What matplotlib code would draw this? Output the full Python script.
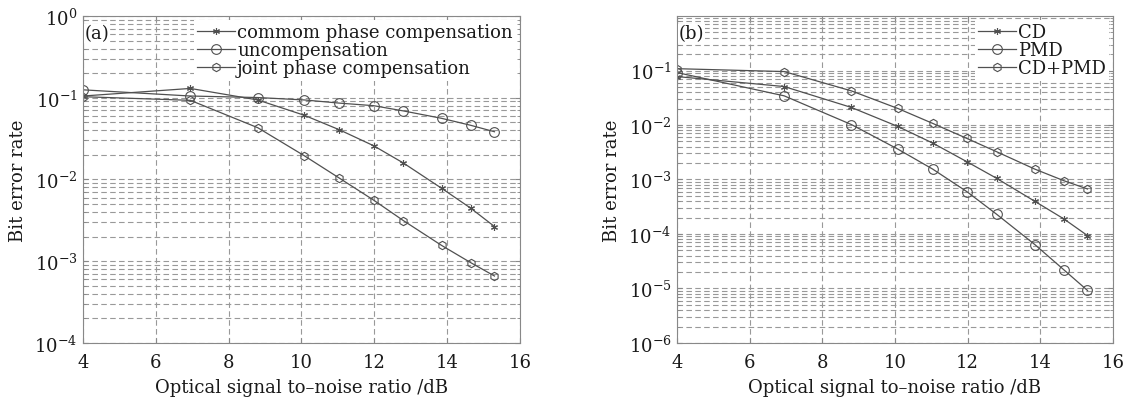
import matplotlib
matplotlib.use("Agg")
import matplotlib.pyplot as plt
from matplotlib.ticker import LogLocator, NullFormatter

plt.rcParams["font.family"] = ["DejaVu Serif"]
plt.rcParams["mathtext.fontset"] = "dejavuserif"

# OSNR sample points (dB)
osnr = [4.0, 6.95, 8.8, 10.08, 11.04, 11.98, 12.8, 13.85, 14.65, 15.3]

# panel (a)
ber_common = [0.105, 0.13, 0.094, 0.061, 0.0406, 0.0259, 0.0159, 0.0078, 0.00445, 0.00266]
ber_uncomp = [0.125, 0.105, 0.1006, 0.094, 0.086, 0.080, 0.069, 0.056, 0.046, 0.0384]
ber_joint = [0.103, 0.093, 0.043, 0.0195, 0.0104, 0.0056, 0.00314, 0.00156, 0.00096, 0.00066]

# panel (b)
ber_cd = [0.0774, 0.0508, 0.0210, 0.0094, 0.00466, 0.00212, 0.00105, 0.000398, 0.000189, 0.0000935]
ber_pmd = [0.0917, 0.0343, 0.0102, 0.00361, 0.00155, 0.000598, 0.00023, 0.000064, 0.000022, 0.0000092]
ber_cdpmd = [0.108, 0.0956, 0.0423, 0.0201, 0.0107, 0.00567, 0.00323, 0.00155, 0.00095, 0.00067]

labels_a = ["commom phase compensation", "uncompensation", "joint phase compensation"]
labels_b = ["CD", "PMD", "CD+PMD"]

line_c = "#505050"
grid_c = "#999999"
text_c = "#1a1a1a"
fs = 13


def style_axes(ax, ymin, tag):
    ax.set_yscale("log")
    ax.set_xlim(4, 16)
    ax.set_ylim(ymin, 1)
    ax.set_xticks([4, 6, 8, 10, 12, 14, 16])
    ax.yaxis.set_minor_locator(LogLocator(base=10, subs=range(2, 10), numticks=100))
    ax.yaxis.set_minor_formatter(NullFormatter())
    ax.grid(True, which="major", axis="both", color=grid_c, linestyle=(0, (5, 3)), linewidth=0.8)
    ax.grid(True, which="minor", axis="y", color=grid_c, linestyle=(0, (5, 3)), linewidth=0.8)
    ax.tick_params(which="both", direction="in", top=True, right=True, labelsize=fs,
                   color="#888888", labelcolor=text_c)
    ax.tick_params(axis="x", pad=7)
    ax.tick_params(axis="y", pad=4)
    ax.tick_params(which="minor", length=2)
    for s in ax.spines.values():
        s.set_color("#888888")
        s.set_linewidth(0.8)
    ax.set_xlabel("Optical signal to\u2013noise ratio /dB", fontsize=fs, color=text_c, labelpad=5)
    ax.set_ylabel("Bit error rate", fontsize=fs, color=text_c, labelpad=5)
    ax.text(0.004, 0.975, tag, transform=ax.transAxes, ha="left", va="top", fontsize=fs,
            color=text_c, bbox=dict(facecolor="white", edgecolor="none", pad=0.3))


fig = plt.figure(figsize=(11.41, 4.02), dpi=100)
ax1 = fig.add_axes([0.0727, 0.1443, 0.3830, 0.8134])
ax2 = fig.add_axes([0.5933, 0.1443, 0.3821, 0.8134])

mk = dict(color=line_c, linewidth=0.9, markerfacecolor="none", markeredgecolor=line_c, markeredgewidth=0.8)

ax1.plot(osnr, ber_common, marker=(6, 2, 0), markersize=5, label=labels_a[0], **mk)
ax1.plot(osnr, ber_uncomp, marker="o", markersize=7, label=labels_a[1], **mk)
ax1.plot(osnr, ber_joint, marker="h", markersize=6, label=labels_a[2], **mk)
style_axes(ax1, 1e-4, "(a)")
ax1.set_yticks([1e-4, 1e-3, 1e-2, 1e-1, 1])

ax2.plot(osnr, ber_cd, marker=(6, 2, 0), markersize=5, label=labels_b[0], **mk)
ax2.plot(osnr, ber_pmd, marker="o", markersize=7, label=labels_b[1], **mk)
ax2.plot(osnr, ber_cdpmd, marker="h", markersize=6, label=labels_b[2], **mk)
style_axes(ax2, 1e-6, "(b)")
ax2.set_yticks([1e-6, 1e-5, 1e-4, 1e-3, 1e-2, 1e-1])

for ax in (ax1, ax2):
    leg = ax.legend(loc="upper right", fontsize=fs, frameon=True, fancybox=False,
                    handlelength=2.1, handletextpad=0.1, labelspacing=0.0,
                    borderpad=0.2, borderaxespad=0.2)
    leg.get_frame().set_edgecolor("none")
    leg.get_frame().set_facecolor("white")
    leg.get_frame().set_alpha(1.0)
    for t in leg.get_texts():
        t.set_color(text_c)

fig.savefig("out.png", dpi=100)
